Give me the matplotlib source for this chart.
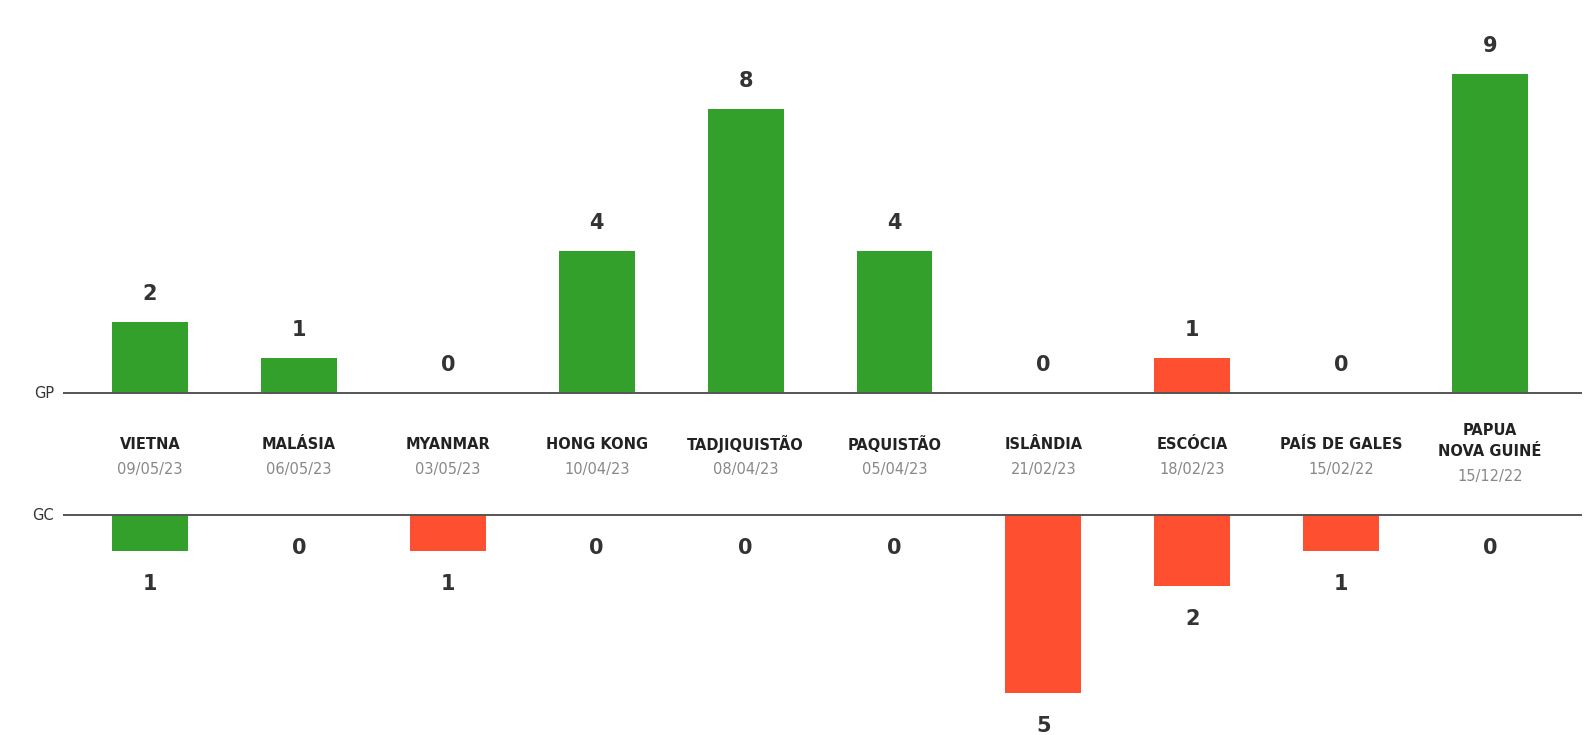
import matplotlib
matplotlib.use("Agg")
import matplotlib.pyplot as plt
import numpy as np

# Jogos e placares (GP = gols pró, GC = gols contra)
paises = ["VIETNA", "MALÁSIA", "MYANMAR", "HONG KONG", "TADJIQUISTÃO",
          "PAQUISTÃO", "ISLÂNDIA", "ESCÓCIA", "PAÍS DE GALES", "PAPUA\nNOVA GUINÉ"]
datas = ["09/05/23", "06/05/23", "03/05/23", "10/04/23", "08/04/23",
         "05/04/23", "21/02/23", "18/02/23", "15/02/22", "15/12/22"]
gols_pro = [2, 1, 0, 4, 8, 4, 0, 1, 0, 9]
gols_contra = [1, 0, 1, 0, 0, 0, 5, 2, 1, 0]

VERDE = "#33a02c"
VERMELHO = "#fe4f30"
TEXTO = "#333333"

plt.rcParams["font.family"] = ["DejaVu Sans"]

fig = plt.figure(figsize=(15.88, 7.35), dpi=100)
ax = fig.add_axes([0, 0, 1, 1])
ax.set_axis_off()

px_gol = 35.5          # pixels por gol
base_gc = -(515 - 393) / px_gol
ax.set_ylim(-(735 - 393) / px_gol, 393 / px_gol)
ax.set_xlim(-150 / 148.9, (1588 - 150) / 148.9)

x = np.arange(len(paises))
cores = [VERDE if gp > gc else VERMELHO for gp, gc in zip(gols_pro, gols_contra)]

# barras de gols pró (para cima) e gols contra (para baixo)
ax.bar(x, gols_pro, width=0.51, bottom=0, color=cores, zorder=2)
ax.bar(x, [-g for g in gols_contra], width=0.51, bottom=base_gc, color=cores, zorder=2)

# linhas de base
x0, x1 = (63 - 150) / 148.9, (1582 - 150) / 148.9
ax.plot([x0, x1], [0, 0], color="#555555", lw=1.4, zorder=3, solid_capstyle="butt")
ax.plot([x0, x1], [base_gc, base_gc], color="#555555", lw=1.4, zorder=3, solid_capstyle="butt")
ax.text(x0 - 0.06, 0, "GP", ha="right", va="center", fontsize=10.5, color=TEXTO)
ax.text(x0 - 0.06, base_gc, "GC", ha="right", va="center", fontsize=10.5, color=TEXTO)

for i in x:
    ax.annotate(str(gols_pro[i]), (i, gols_pro[i]), xytext=(0, 20), textcoords="offset points",
                ha="center", va="center", fontsize=15, fontweight="bold", color=TEXTO)
    ax.annotate(str(gols_contra[i]), (i, base_gc - gols_contra[i]), xytext=(0, -24),
                textcoords="offset points", ha="center", va="center",
                fontsize=15, fontweight="bold", color=TEXTO)
    linhas = paises[i].split("\n")
    if len(linhas) == 2:
        offsets, off_data = [-27, -42], -60
    else:
        offsets, off_data = [-37], -55
    for linha, dy in zip(linhas, offsets):
        ax.annotate(linha, (i, 0), xytext=(0, dy), textcoords="offset points",
                    ha="center", va="center", fontsize=10.5, fontweight="bold",
                    color="#222222")
    ax.annotate(datas[i], (i, 0), xytext=(0, off_data), textcoords="offset points",
                ha="center", va="center", fontsize=10.5, color="#888888")

fig.savefig("out.png", dpi=100, facecolor="white")
